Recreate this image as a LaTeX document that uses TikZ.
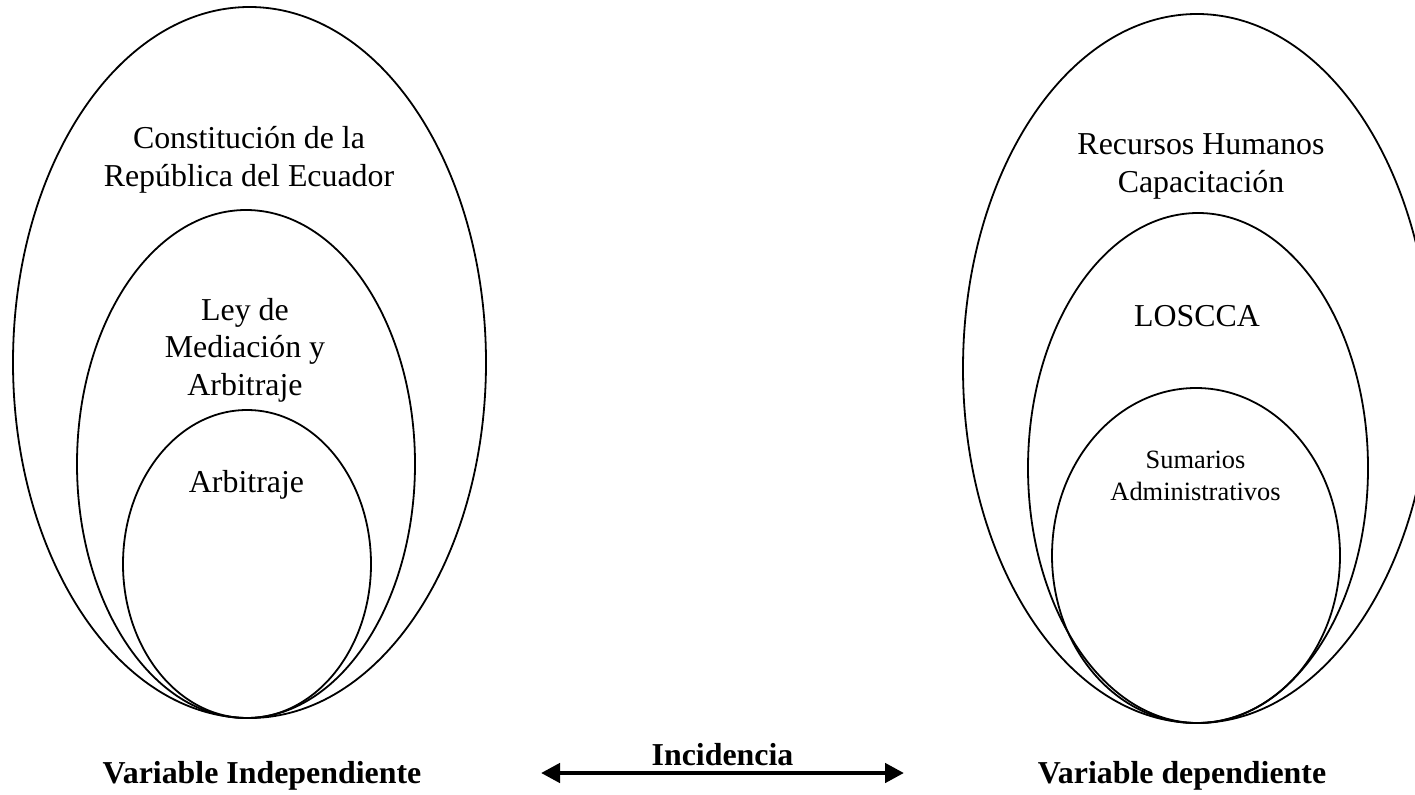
\documentclass[tikz,border=0pt]{standalone}
\usepackage{fontspec}
\setmainfont{Liberation Serif}
\usetikzlibrary{arrows.meta}

\begin{document}
\begin{tikzpicture}[x=1bp,y=-1bp,
  ring/.style={draw=black,line width=1.8bp},
  bigtxt/.style={anchor=base,align=center,inner sep=0pt,
    font=\fontsize{32}{37.5}\selectfont},
  smalltxt/.style={anchor=base,align=center,inner sep=0pt,
    font=\fontsize{26.5}{32}\selectfont},
  varlabel/.style={anchor=base,inner sep=0pt,
    font=\fontsize{32}{38}\selectfont\bfseries},
  linkarrow/.style={line width=4.5bp,
    {Triangle[length=19bp,width=19bp]}-{Triangle[length=19bp,width=19bp]}}]

\useasboundingbox (0,0) rectangle (1415,794);
\clip (0,0) rectangle (1415,794);

% independent variable: nested ellipses
\draw[ring] (249.5,362.5) ellipse [x radius=236.5, y radius=355.5];
\draw[ring] (246,464) ellipse [x radius=169, y radius=254];
\draw[ring] (247,564) ellipse [x radius=124, y radius=154];

% multi-line texts are placed by the baseline of their last line
\node[bigtxt] (constitucion) at (249,186)
  {Constitución de la\\[0.5bp]República del Ecuador};
\node[bigtxt] (ley) at (245,395) {Ley de\\Mediación y\\Arbitraje};
\node[bigtxt] (arbitraje) at (246.5,492) {Arbitraje};

% dependent variable: nested ellipses
\draw[ring] (1197,368.5) ellipse [x radius=234, y radius=354.5];
\draw[ring] (1198,468) ellipse [x radius=170, y radius=255];
\draw[ring] (1196,555.5) ellipse [x radius=144, y radius=167.5];

\node[bigtxt] (recursos) at (1201,192) {Recursos Humanos\\Capacitación};
\node[bigtxt] (loscca) at (1197,326) {LOSCCA};
\node[smalltxt] (sumarios) at (1195.5,500) {Sumarios\\Administrativos};

% labels and the link between both variables
\node[varlabel] (vind) at (262,783) {Variable Independiente};
\node[varlabel] (vdep) at (1182,783) {Variable dependiente};
\node[varlabel] (incidencia) at (722.5,765) {Incidencia};

\coordinate (linkL) at (541,773);
\coordinate (linkR) at (904,773);
\draw[linkarrow] (linkL) -- (linkR);

\end{tikzpicture}
\end{document}
